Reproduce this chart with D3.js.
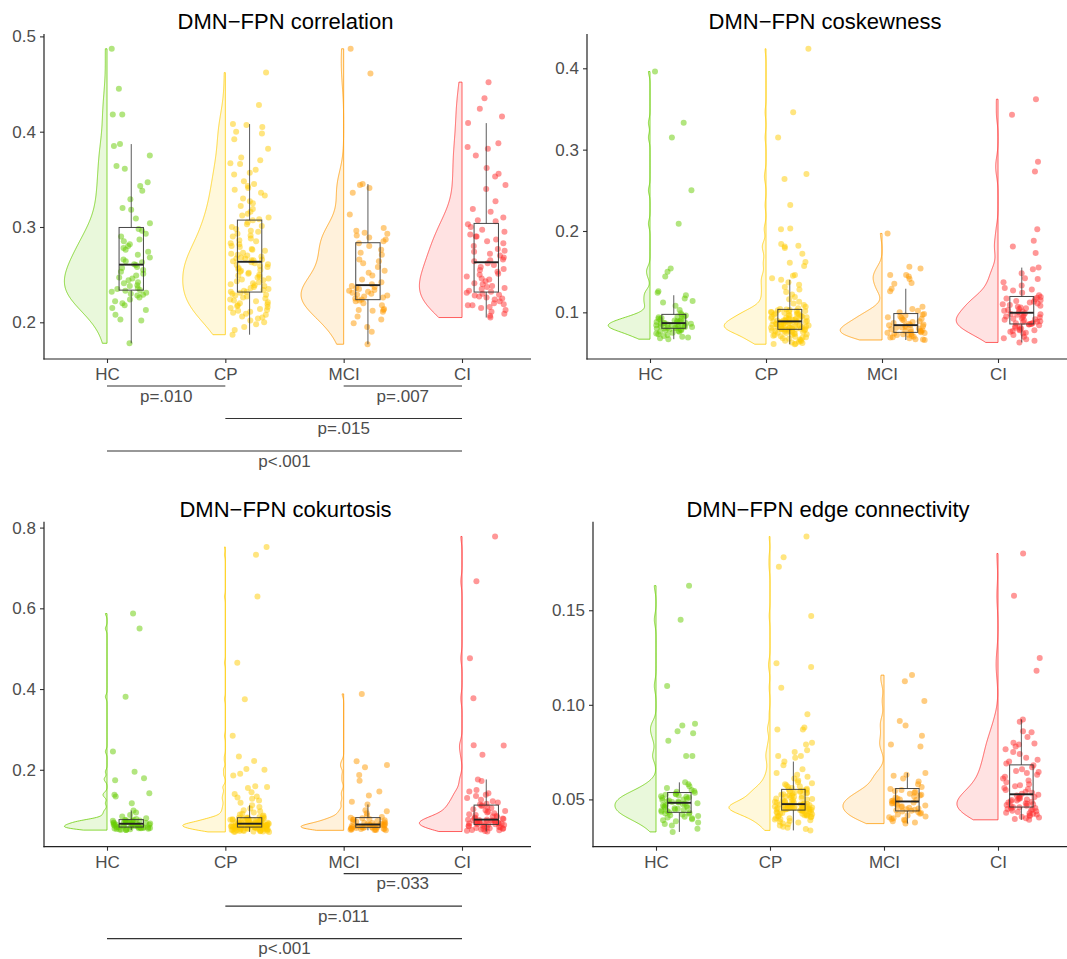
<!DOCTYPE html>
<html lang="en">
<head>
<meta charset="utf-8">
<script src="https://cdn.jsdelivr.net/npm/d3@7"></script>
<style>
  body { margin:0; background:#fff; }
  svg { font-family: "Liberation Sans", Arial, Helvetica, sans-serif; }
</style>
</head>
<body>
<script>
// ---- data ----
var groups = ["HC", "CP", "MCI", "CI"];
var titles = ["DMN\u2212FPN correlation", "DMN\u2212FPN coskewness", "DMN\u2212FPN cokurtosis", "DMN\u2212FPN edge connectivity"];

// correlation
var corrHC = [0.487,0.445,0.418,0.418,0.387,0.385,0.375,0.364,0.361,0.347,0.343,0.338,0.329,0.320,0.318,0.309,0.304,
  0.298,0.296,0.293,0.290,0.287,0.285,0.282,0.280,0.278,0.276,0.274,0.271,0.268,0.266,0.264,0.263,0.261,
  0.260,0.258,0.257,0.255,0.253,0.251,0.249,0.247,0.246,0.244,0.242,0.241,0.239,0.238,0.236,0.235,0.234,
  0.233,0.232,0.231,0.230,0.229,0.228,0.226,0.224,0.222,0.220,0.218,0.215,0.213,0.208,0.203,0.202,0.178];
var corrCP = [0.462,0.428,0.408,0.407,0.405,0.400,0.398,0.392,0.382,0.373,0.370,0.367,0.366,0.360,0.357,0.355,0.348,0.345,0.343,0.341,0.339,0.336,0.333,0.330,0.327,0.325,0.322,0.319,0.316,0.314,0.312,0.310,0.308,
  0.307,0.305,0.303,0.301,0.300,0.298,0.296,0.295,0.293,0.291,0.290,0.288,0.286,0.285,0.283,0.282,0.280,0.279,0.277,0.276,0.275,0.273,0.272,0.271,0.270,0.269,0.268,0.267,0.267,0.266,0.265,0.265,0.264,
  0.263,0.262,0.261,0.260,0.259,0.258,0.257,0.256,0.255,0.254,0.253,0.252,0.251,0.250,0.249,0.248,0.247,0.246,0.245,0.244,0.243,0.242,0.241,0.240,0.239,0.238,0.237,0.236,0.235,0.234,0.233,0.232,0.232,
  0.231,0.230,0.229,0.228,0.227,0.226,0.225,0.224,0.223,0.222,0.221,0.220,0.219,0.218,0.217,0.216,0.215,0.214,0.213,0.212,0.211,0.210,0.209,0.208,0.206,0.205,0.204,0.202,0.200,0.198,0.195,0.192,0.187];
var corrMCI = [0.487,0.461,0.345,0.344,0.341,0.336,0.313,0.299,0.296,0.294,0.293,0.291,0.289,0.287,0.285,
  0.283,0.280,0.276,0.273,0.271,0.266,0.264,0.262,0.258,0.254,0.252,0.249,0.245,0.242,0.240,
  0.238,0.237,0.236,0.235,0.234,0.233,0.232,0.231,0.230,0.229,0.228,0.227,0.226,0.225,0.224,
  0.223,0.222,0.220,0.218,0.214,0.213,0.213,0.212,0.211,0.206,0.203,0.199,0.195,0.190,0.177];
var corrCI = [0.452,0.435,0.424,0.416,0.409,0.388,0.384,0.382,0.375,0.362,0.356,0.353,0.344,0.340,0.327,0.319,0.316,0.310,0.307,0.306,
  0.303,0.300,0.297,0.295,0.292,0.290,0.290,0.287,0.285,0.283,0.280,0.277,0.275,0.274,0.272,0.270,0.268,0.266,0.265,0.264,
  0.262,0.260,0.258,0.256,0.255,0.253,0.251,0.250,0.248,0.246,0.245,0.243,0.241,0.240,0.238,0.237,0.236,0.235,0.233,0.232,
  0.231,0.230,0.229,0.228,0.227,0.226,0.225,0.224,0.222,0.220,0.219,0.218,0.218,0.216,0.215,0.213,0.211,0.209,0.207,0.205];

// coskewness
var coskHC = [0.396,0.333,0.315,0.250,0.209,0.154,0.150,0.144,0.126,0.124,0.121,0.117,0.114,0.112,0.108,0.103,0.099,
  0.097,0.096,0.095,0.095,0.094,0.093,0.092,0.092,0.091,0.090,0.090,0.089,0.089,0.088,0.088,0.087,0.087,
  0.0865,0.086,0.086,0.085,0.085,0.0845,0.084,0.084,0.083,0.083,0.0825,0.082,0.082,0.081,0.081,0.0805,0.0805,
  0.080,0.079,0.079,0.078,0.078,0.077,0.076,0.076,0.075,0.074,0.073,0.072,0.071,0.070,0.069,0.068,0.067];
var coskCP = [0.424,0.346,0.315,0.270,0.264,0.232,0.203,0.202,0.184,0.182,0.181,0.179,0.172,0.162,0.161,0.157,0.146,0.145,0.142,0.140,0.137,0.134,0.131,0.128,0.125,0.122,0.119,0.116,0.113,0.111,0.109,0.107,0.105,0.104,
  0.1035,0.103,0.1025,0.102,0.1015,0.101,0.1005,0.100,0.0995,0.099,0.0985,0.098,0.0975,0.097,0.0965,0.096,0.0955,0.095,0.0945,0.094,0.0935,0.093,0.0925,0.092,0.0915,0.091,0.091,0.0905,0.090,0.090,0.0895,0.0895,0.089,0.089,
  0.0888,0.0885,0.088,0.0878,0.0875,0.087,0.0868,0.0865,0.086,0.0857,0.0853,0.085,0.0846,0.0843,0.084,0.0837,0.0834,0.083,0.0827,0.0824,0.082,0.0818,0.0815,0.0812,0.081,0.0807,0.0804,0.0801,0.0799,0.0797,0.0795,0.0794,0.0793,0.0792,
  0.079,0.0788,0.0785,0.078,0.0776,0.0772,0.077,0.0765,0.076,0.0755,0.075,0.0745,0.074,0.0735,0.073,0.0724,0.072,0.0713,0.0706,0.070,0.0694,0.0688,0.068,0.0674,0.0667,0.066,0.0652,0.0645,0.0638,0.063,0.0622,0.0615,0.061,0.0608];
var coskMCI = [0.197,0.156,0.154,0.146,0.146,0.144,0.141,0.136,0.135,0.129,0.126,0.107,0.104,0.102,0.100,
  0.098,0.097,0.096,0.095,0.094,0.093,0.092,0.091,0.090,0.089,0.088,0.087,0.086,0.085,0.0845,
  0.084,0.0835,0.083,0.082,0.0815,0.081,0.080,0.0795,0.079,0.078,0.0775,0.077,0.0765,0.076,0.0755,
  0.075,0.0745,0.074,0.0735,0.073,0.0725,0.072,0.071,0.070,0.0695,0.069,0.068,0.067,0.0665,0.066];
var coskCI = [0.362,0.343,0.285,0.273,0.202,0.188,0.181,0.173,0.155,0.153,0.148,0.142,0.141,0.137,0.133,0.130,0.128,0.127,0.124,0.121,
  0.119,0.118,0.117,0.116,0.115,0.114,0.113,0.112,0.111,0.110,0.109,0.108,0.107,0.106,0.105,0.104,0.103,0.102,0.101,0.100,
  0.099,0.098,0.0975,0.097,0.096,0.095,0.0945,0.094,0.093,0.092,0.0915,0.091,0.090,0.089,0.0885,0.088,0.087,0.0865,0.086,0.0858,
  0.0855,0.085,0.084,0.083,0.082,0.081,0.080,0.079,0.078,0.078,0.077,0.076,0.075,0.074,0.072,0.070,0.068,0.067,0.065,0.063];

// cokurtosis
var kurtHC = [0.587,0.550,0.381,0.245,0.195,0.179,0.174,0.142,0.138,0.134,0.117,0.099,0.094,0.088,0.084,0.080,0.078,
  0.076,0.0755,0.075,0.0745,0.074,0.0735,0.073,0.072,0.0715,0.071,0.070,0.0695,0.069,0.068,0.0675,0.067,0.0665,
  0.066,0.0655,0.065,0.0645,0.064,0.0635,0.063,0.0625,0.062,0.0615,0.061,0.0605,0.060,0.0595,0.059,0.0585,0.0582,
  0.0578,0.0575,0.057,0.0565,0.056,0.0557,0.0553,0.055,0.0545,0.054,0.0535,0.053,0.0525,0.052,0.0515,0.051,0.0505];
var kurtCP = [0.752,0.733,0.629,0.465,0.375,0.284,0.233,0.222,0.202,0.200,0.190,0.186,0.159,0.157,0.155,0.144,0.140,0.134,0.131,0.128,0.124,0.118,0.112,0.108,0.104,0.100,0.097,0.094,0.091,0.089,0.087,0.085,0.083,0.082,
  0.081,0.0805,0.080,0.0795,0.079,0.0785,0.078,0.0775,0.077,0.0765,0.076,0.0755,0.075,0.0745,0.074,0.0735,0.073,0.0725,0.072,0.0715,0.071,0.0705,0.070,0.0697,0.0693,0.069,0.0685,0.068,0.0677,0.0674,0.067,0.0668,0.0666,0.0665,
  0.0662,0.066,0.0657,0.0655,0.0652,0.065,0.0647,0.0645,0.0642,0.064,0.0637,0.0635,0.0632,0.063,0.0627,0.0625,0.0622,0.062,0.0617,0.0615,0.0612,0.061,0.0607,0.0605,0.0602,0.060,0.0597,0.0595,0.0592,0.059,0.0587,0.0585,0.0583,0.0581,
  0.0579,0.0576,0.0573,0.057,0.0567,0.0564,0.056,0.0557,0.0554,0.055,0.0546,0.0543,0.054,0.0536,0.0532,0.0528,0.0524,0.052,0.0516,0.0512,0.0508,0.0504,0.050,0.0496,0.0492,0.0488,0.0484,0.048,0.0476,0.0472,0.0468,0.0465,0.0462,0.046];
var kurtMCI = [0.388,0.221,0.212,0.206,0.187,0.173,0.146,0.136,0.121,0.114,0.100,0.097,0.092,0.087,0.083,
  0.081,0.080,0.078,0.077,0.076,0.075,0.073,0.072,0.071,0.070,0.069,0.068,0.067,0.066,0.065,
  0.0638,0.0633,0.063,0.0625,0.062,0.0615,0.061,0.0605,0.060,0.0595,0.059,0.0585,0.058,0.0577,0.0575,
  0.057,0.0565,0.056,0.0555,0.055,0.0545,0.054,0.0535,0.053,0.0525,0.052,0.0515,0.051,0.0505,0.050];
var kurtCI = [0.778,0.667,0.476,0.377,0.261,0.260,0.237,0.176,0.172,0.150,0.146,0.142,0.138,0.135,0.130,0.126,0.122,0.119,0.116,0.114,
  0.112,0.110,0.107,0.105,0.102,0.100,0.098,0.096,0.094,0.092,0.090,0.088,0.086,0.084,0.083,0.082,0.080,0.079,0.078,0.077,
  0.076,0.0755,0.075,0.0745,0.074,0.0735,0.073,0.072,0.0715,0.071,0.070,0.0695,0.069,0.068,0.0675,0.067,0.066,0.0655,0.065,0.0648,
  0.064,0.063,0.062,0.061,0.060,0.059,0.058,0.0575,0.057,0.056,0.055,0.0545,0.054,0.053,0.052,0.051,0.050,0.049,0.048,0.047];

// edge connectivity
var edgeHC = [0.163,0.145,0.110,0.090,0.089,0.086,0.085,0.081,0.073,0.073,0.059,0.058,0.057,0.056,0.055,0.0545,0.054,
  0.0535,0.053,0.0527,0.0524,0.052,0.0517,0.0514,0.051,0.0507,0.0504,0.050,0.0497,0.0494,0.049,0.0488,0.0486,0.0484,
  0.048,0.0477,0.0474,0.0471,0.0468,0.0465,0.0462,0.0459,0.0456,0.0453,0.045,0.0447,0.0444,0.0441,0.0438,0.0435,0.0432,
  0.043,0.0427,0.0424,0.042,0.0416,0.0412,0.0408,0.0404,0.040,0.0395,0.039,0.0384,0.0378,0.037,0.0362,0.0345,0.0328];
var edgeCP = [0.189,0.178,0.173,0.147,0.122,0.120,0.109,0.095,0.088,0.087,0.087,0.080,0.079,0.076,0.075,0.073,0.073,0.072,0.070,0.068,0.066,0.064,0.063,0.062,0.061,0.060,0.059,0.0585,0.058,0.0575,0.057,0.0565,0.056,0.0556,
  0.0552,0.055,0.0547,0.0545,0.0542,0.054,0.0537,0.0535,0.0532,0.053,0.0527,0.0525,0.0522,0.052,0.0517,0.0515,0.0512,0.051,0.0507,0.0505,0.0502,0.050,0.0497,0.0495,0.0492,0.049,0.0488,0.0486,0.0484,0.0482,0.048,0.0478,0.0477,0.0476,
  0.0474,0.0473,0.0472,0.0471,0.047,0.0469,0.0468,0.0467,0.0466,0.0465,0.0464,0.0463,0.0462,0.0461,0.046,0.0459,0.0458,0.0457,0.0456,0.0455,0.0454,0.0453,0.0452,0.0451,0.045,0.0449,0.0448,0.0447,0.0446,0.0446,0.0445,0.0445,0.0444,0.0444,
  0.0442,0.044,0.0438,0.0436,0.0434,0.0432,0.043,0.0428,0.0426,0.0424,0.0422,0.042,0.0418,0.0416,0.0414,0.0412,0.041,0.0408,0.0405,0.0402,0.040,0.0397,0.0394,0.039,0.0386,0.0382,0.0378,0.0373,0.0368,0.0362,0.0356,0.035,0.0343,0.0336];
var edgeMCI = [0.1157,0.1125,0.102,0.0915,0.089,0.0836,0.079,0.078,0.064,0.063,0.0625,0.061,0.0595,0.058,0.0565,
  0.0555,0.055,0.0545,0.054,0.0535,0.053,0.0525,0.052,0.0515,0.051,0.0505,0.050,0.0497,0.0494,0.0491,
  0.0487,0.0484,0.0481,0.0478,0.0475,0.0471,0.0468,0.0464,0.046,0.0456,0.0452,0.0448,0.0445,0.0442,0.044,
  0.0436,0.0432,0.0428,0.0424,0.042,0.0415,0.041,0.0405,0.040,0.0396,0.0392,0.0388,0.0384,0.0378,0.0372];
var edgeCI = [0.180,0.1576,0.1248,0.118,0.0923,0.091,0.086,0.0855,0.083,0.080,0.0795,0.079,0.078,0.0765,0.075,0.074,0.072,0.071,0.070,0.069,
  0.068,0.067,0.066,0.065,0.0645,0.064,0.063,0.062,0.061,0.060,0.059,0.058,0.0575,0.057,0.056,0.0555,0.055,0.054,0.0535,0.053,
  0.0524,0.052,0.0516,0.0512,0.0508,0.0505,0.0502,0.050,0.0497,0.0494,0.049,0.0487,0.0484,0.048,0.0477,0.0474,0.047,0.0467,0.0463,0.046,
  0.0458,0.0455,0.0452,0.0449,0.0446,0.0443,0.044,0.0437,0.0434,0.043,0.0427,0.0424,0.042,0.0416,0.0412,0.0408,0.0404,0.040,0.0396,0.0392];

// y tick values
var corrTicks = [0.2, 0.3, 0.4, 0.5];
var coskTicks = [0.1, 0.2, 0.3, 0.4];
var kurtTicks = [0.2, 0.4, 0.6, 0.8];
var edgeTicks = [0.05, 0.10, 0.15];

// pairwise comparisons
var corrP = [["HC","CP","p=.010"], ["MCI","CI","p=.007"], ["CP","CI","p=.015"], ["HC","CI","p<.001"]];
var kurtP = [["MCI","CI","p=.033"], ["CP","CI","p=.011"], ["HC","CI","p<.001"]];

var colors = ["#66cc00", "#ffcc00", "#ff9900", "#ff3030"];

// ---- layout ----
var W = 1067, H = 959;
var panels = [
  {title: titles[0], values: [corrHC, corrCP, corrMCI, corrCI], ticks: corrTicks, fmt: ".1f", pvals: corrP, x0: 44,  x1: 531,  y0: 34,    y1: 359},
  {title: titles[1], values: [coskHC, coskCP, coskMCI, coskCI], ticks: coskTicks, fmt: ".1f", pvals: [],    x0: 587, x1: 1067, y0: 34,    y1: 359},
  {title: titles[2], values: [kurtHC, kurtCP, kurtMCI, kurtCI], ticks: kurtTicks, fmt: ".1f", pvals: kurtP, x0: 44,  x1: 531,  y0: 521.7, y1: 846.7},
  {title: titles[3], values: [edgeHC, edgeCP, edgeMCI, edgeCI], ticks: edgeTicks, fmt: ".2f", pvals: [],    x0: 593, x1: 1067, y0: 521.7, y1: 846.7}
];

var svg = d3.select("body").append("svg").attr("width", W).attr("height", H);

// gaussian kde with R's bw.nrd0
function kde(vals) {
  var s = vals.slice().sort(d3.ascending);
  var n = s.length;
  var sd = d3.deviation(s);
  var iqr = d3.quantile(s, 0.75) - d3.quantile(s, 0.25);
  var bw = 0.9 * Math.min(sd, iqr / 1.34) * Math.pow(n, -0.2);
  var lo = s[0], hi = s[n - 1];
  var out = [];
  for (var k = 0; k < 512; k++) {
    var t = lo + (hi - lo) * k / 511;
    var sum = 0;
    for (var i = 0; i < n; i++) {
      var z = (t - s[i]) / bw;
      sum += Math.exp(-0.5 * z * z);
    }
    out.push([t, sum / (n * bw * Math.sqrt(2 * Math.PI))]);
  }
  return out;
}

// fixed horizontal jitter offset in [-0.5, 0.5) (layout only)
function jitter(i, gi, pi) {
  var h = Math.sin(i * 78.233 + gi * 12.9898 + pi * 4.1414) * 43758.5453;
  return h - Math.floor(h) - 0.5;
}

function drawPanel(p, pi) {
  var g = svg.append("g");
  var all = d3.merge(p.values);
  var ext = d3.extent(all);
  var pad = (ext[1] - ext[0]) * 0.05;
  var y = d3.scaleLinear().domain([ext[0] - pad, ext[1] + pad]).range([p.y1, p.y0]);
  var x = d3.scalePoint().domain(groups).range([p.x0 + 63, p.x1 - 69]);
  var step = x.step();
  var vw = step * 0.36, boxOff = step * 0.205, boxHalf = step * 0.103, jit = step * 0.165;

  groups.forEach(function(gr, gi) {
    var vals = p.values[gi];
    var cx = x(gr);
    var col = colors[gi];

    // half violin (left of the tick)
    var dens = kde(vals);
    var maxD = d3.max(dens, function(d) { return d[1]; });
    var pts = [[cx, y(dens[0][0])]];
    dens.forEach(function(d) { pts.push([cx - d[1] / maxD * vw, y(d[0])]); });
    pts.push([cx, y(dens[dens.length - 1][0])]);
    g.append("path")
      .attr("d", d3.line()(pts) + "Z")
      .attr("fill", col).attr("fill-opacity", 0.14)
      .attr("stroke", col).attr("stroke-opacity", 0.85).attr("stroke-width", 0.9);

    // jittered points
    var bx = cx + boxOff;
    g.append("g").selectAll("circle")
      .data(vals)
      .enter().append("circle")
      .attr("cx", function(d, i) { return bx + jitter(i, gi, pi) * 2 * jit; })
      .attr("cy", function(d) { return y(d); })
      .attr("r", 3)
      .attr("fill", col).attr("fill-opacity", 0.5);

    // box plot
    var s = vals.slice().sort(d3.ascending);
    var q1 = d3.quantile(s, 0.25), med = d3.quantile(s, 0.5), q3 = d3.quantile(s, 0.75);
    var iq = q3 - q1;
    var wHi = d3.max(s.filter(function(v) { return v <= q3 + 1.5 * iq; }));
    var wLo = d3.min(s.filter(function(v) { return v >= q1 - 1.5 * iq; }));
    var bg = g.append("g").attr("stroke", "#333").attr("fill", "none");
    bg.append("line").attr("x1", bx).attr("x2", bx).attr("y1", y(q3)).attr("y2", y(wHi)).attr("stroke-width", 1).attr("stroke-opacity", 0.8);
    bg.append("line").attr("x1", bx).attr("x2", bx).attr("y1", y(q1)).attr("y2", y(wLo)).attr("stroke-width", 1).attr("stroke-opacity", 0.8);
    bg.append("rect").attr("x", bx - boxHalf).attr("width", boxHalf * 2)
      .attr("y", y(q3)).attr("height", y(q1) - y(q3)).attr("stroke-width", 1).attr("stroke-opacity", 0.9);
    bg.append("line").attr("x1", bx - boxHalf).attr("x2", bx + boxHalf).attr("y1", y(med)).attr("y2", y(med))
      .attr("stroke", "#222").attr("stroke-width", 1.9);
  });

  // axes
  var yAx = g.append("g").attr("transform", "translate(" + p.x0 + ",0)")
    .call(d3.axisLeft(y).tickValues(p.ticks).tickFormat(d3.format(p.fmt)).tickSize(4).tickPadding(4).tickSizeOuter(0));
  var xAx = g.append("g").attr("transform", "translate(0," + p.y1 + ")")
    .call(d3.axisBottom(x).tickSize(4).tickPadding(5).tickSizeOuter(0));
  [yAx, xAx].forEach(function(a) {
    a.select(".domain").remove();
    a.attr("font-family", null);
    a.selectAll(".tick line").attr("stroke", "#333").attr("stroke-width", 1.1);
    a.selectAll(".tick text").attr("fill", "#4d4d4d").style("font-size", "17px");
  });
  g.append("line").attr("x1", p.x0).attr("x2", p.x0).attr("y1", p.y0).attr("y2", p.y1 + 0.6)
    .attr("stroke", "#222").attr("stroke-width", 1.2);
  g.append("line").attr("x1", p.x0 - 0.6).attr("x2", p.x1).attr("y1", p.y1).attr("y2", p.y1)
    .attr("stroke", "#222").attr("stroke-width", 1.2);

  // title
  g.append("text")
    .attr("x", (p.x0 + p.x1) / 2 - 2).attr("y", p.y0 - 5)
    .attr("text-anchor", "middle").style("font-size", "22px").attr("fill", "#000")
    .text(p.title);

  // significance brackets below the axis
  p.pvals.forEach(function(c) {
    var a = x(c[0]), b = x(c[1]);
    var row = groups.indexOf(c[1]) - groups.indexOf(c[0]) - 1;
    var ly = p.y1 + 27 + row * 32.5;
    g.append("line").attr("x1", a).attr("x2", b).attr("y1", ly).attr("y2", ly)
      .attr("stroke", "#333").attr("stroke-width", 1.2);
    g.append("text").attr("x", (a + b) / 2).attr("y", ly + 15.5)
      .attr("text-anchor", "middle").style("font-size", "17px").attr("fill", "#4d4d4d")
      .text(c[2]);
  });
}

panels.forEach(drawPanel);
</script>
</body>
</html>
